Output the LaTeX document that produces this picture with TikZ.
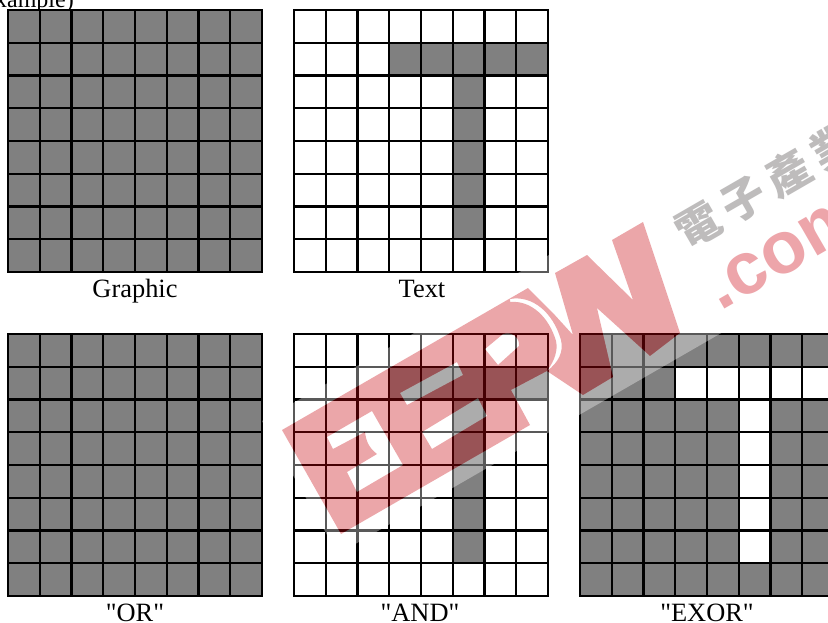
\documentclass[tikz,border=0pt]{standalone}
\usepackage{fontspec}
\newfontfamily\labfont{Liberation Serif}
\newfontfamily\cjk{Noto Sans CJK TC}
\newfontfamily\wmfont{Liberation Sans}
\definecolor{cellgray}{RGB}{128,128,128}
\definecolor{wmred}{RGB}{200,0,10}
\definecolor{wmpink}{RGB}{237,165,170}
\definecolor{wmgray}{RGB}{190,188,188}
\tikzset{
  inner/.style={line width=2.2pt,black},
  outer/.style={line width=2.8pt,black,line cap=rect},
  label/.style={font=\labfont\fontsize{26.4}{30}\selectfont,anchor=base,inner sep=0pt},
  cellfill/.style={fill=cellgray,draw=none},
  wmletters/.style={fill=wmred,fill opacity=.35,even odd rule,draw=none},
  wmhaze/.style={fill=white,fill opacity=.35,even odd rule,draw=none}
}
\newcommand{\pxgrid}[3]{%
  \begin{scope}[shift={(#1,#2)}]
    \ifnum#3=1 \fill[cellfill] (0,0) rectangle (254,262);\fi
    \ifnum#3=2 \fill[cellfill] (95.25,32.75) rectangle (254,65.5);
      \fill[cellfill] (158.75,32.75) rectangle (190.5,229.25);\fi
    \ifnum#3=3 \fill[cellfill] (0,0) rectangle (254,262);
      \fill[white] (95.25,32.75) rectangle (254,65.5);
      \fill[white] (158.75,32.75) rectangle (190.5,229.25);\fi
    \foreach \i in {1,...,7}{
      \draw[inner] (\i*31.75,0) -- (\i*31.75,262);
      \draw[inner] (0,\i*32.75) -- (254,\i*32.75);
    }
    \draw[outer] (0,0) rectangle (254,262);
  \end{scope}}
\newcommand{\wmshape}{%
  (282,430) -- (528,288) -- (553,313) -- (573,335) -- (555,273) -- (587,255) -- (633,300) -- (612,240) -- (643,222) -- (680,333) -- (650,356) -- (597,308) -- (613,377) -- (583,395) -- (547,371) -- (511,390) -- (530,425) -- (341,534) -- cycle
  (327,437) -- (372,411) -- (403,465) -- (357,492) -- (347,472) -- (377,454) .. controls (368,447) and (366,440) .. (365,432) -- (333,449) -- cycle
  (400,393) -- (457,362) -- (463,375) -- (407,405) -- cycle
  (422,432) -- (478,398) -- (487,416) -- (432,449) -- cycle
  (485,349) -- (503,334) .. controls (512,331) and (520,338) .. (519,346) -- (498,365) -- cycle
  (510,299) .. controls (532,295) and (553,312) .. (561,340) .. controls (564,352) and (558,363) .. (547,371) .. controls (555,360) and (558,350) .. (556,341) .. controls (549,317) and (531,300) .. (510,302) -- cycle}
\begin{document}
\begin{tikzpicture}[x=1pt,y=-1pt]
\useasboundingbox (0,0) rectangle (828,622);
\begin{scope}
\clip (0,0) rectangle (828,622);
\fill[white] (0,0) rectangle (828,622);
\node[label,anchor=base east,font=\labfont\fontsize{24}{28}\selectfont] (caption) at (74,7.5) {xample)};
\pxgrid{8}{10}{1}
\pxgrid{294}{10}{2}
\pxgrid{8}{334}{1}
\pxgrid{294}{334}{2}
\pxgrid{580}{334}{3}
\node[label] (graphic) at (135,297) {Graphic};
\node[label] (text) at (422,297) {Text};
\node[label] (or) at (135,621) {"OR"};
\node[label] (and) at (420,621) {"AND"};
\node[label] (exor) at (707,621) {"EXOR"};
% watermark
\path[wmhaze] (262,421) -- (900,52) -- (900,230) -- (338,554) -- cycle \wmshape;
\path[wmletters] \wmshape;
\node[font=\wmfont\bfseries\fontsize{74}{80}\selectfont,text=wmpink,rotate=30,anchor=base west,inner sep=0pt] (dotcom) at (720.6,312) {.com};
\node[font=\cjk\bfseries\fontsize{44}{48}\selectfont,text=wmgray,rotate=30,inner sep=0pt] (cjkmark) at (766,186) {電\hspace{8pt}子\hspace{8pt}產\hspace{8pt}業};
\end{scope}
\end{tikzpicture}
\end{document}
